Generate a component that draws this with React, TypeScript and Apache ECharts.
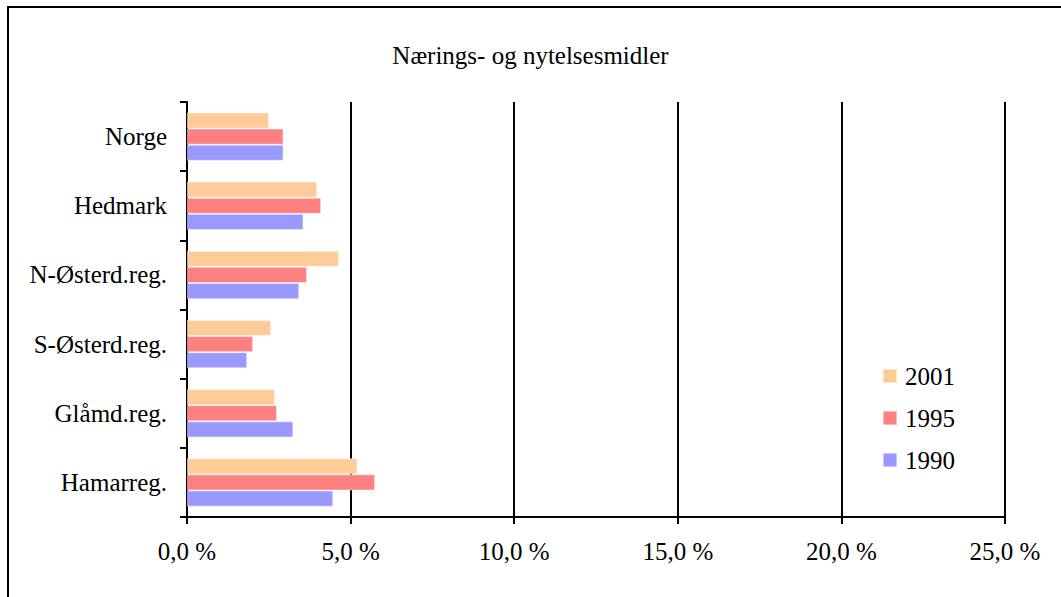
import React, { useEffect, useRef } from "react";
import * as echarts from "echarts";

const categories = ["Norge", "Hedmark", "N-Østerd.reg.", "S-Østerd.reg.", "Glåmd.reg.", "Hamarreg."];
const seriesNames = ["2001", "1995", "1990"];
const values2001 = [2.51, 3.98, 4.65, 2.57, 2.69, 5.21];
const values1995 = [2.95, 4.1, 3.67, 2.02, 2.75, 5.75];
const values1990 = [2.95, 3.56, 3.43, 1.84, 3.25, 4.47];
const colors = ["#FFCC99", "#FF8080", "#9999FF"];
const xTicks = [0, 5, 10, 15, 20, 25];

const FONT = "Times New Roman, Liberation Serif, serif";
const FS = 25;

export default function App() {
  const ref = useRef<HTMLDivElement>(null);
  useEffect(() => {
    document.body.style.margin = "0";
    const chart = echarts.init(ref.current!, null, { renderer: "svg" });
    const data = [values2001, values1995, values1990];
    chart.setOption({
      animation: false,
      backgroundColor: "#ffffff",
      textStyle: { fontFamily: FONT },
      title: {
        text: "Nærings- og nytelsesmidler",
        left: "center",
        top: 38,
        textStyle: { fontFamily: FONT, fontSize: FS, fontWeight: "normal", color: "#000" },
      },
      graphic: [
        {
          type: "rect",
          shape: { x: 8, y: 7, width: 1200, height: 800 },
          style: { fill: "none", stroke: "#000", lineWidth: 2 },
          silent: true,
        },
      ],
      legend: {
        orient: "vertical",
        left: 877,
        top: 358,
        itemWidth: 14,
        itemHeight: 14,
        itemGap: 16,
        icon: "rect",
        data: seriesNames,
        textStyle: { fontFamily: FONT, fontSize: FS, color: "#000", lineHeight: 26, padding: [0, 0, 0, 3] },
      },
      grid: { left: 187, right: 56, top: 102, bottom: 80, containLabel: false },
      xAxis: {
        type: "value",
        min: xTicks[0],
        max: xTicks[xTicks.length - 1],
        interval: 5,
        axisLine: { show: true, lineStyle: { color: "#000", width: 2 } },
        axisTick: { show: true, length: 7, lineStyle: { color: "#000", width: 2 } },
        splitLine: { show: true, lineStyle: { color: "#000", width: 2 } },
        axisLabel: {
          margin: 22,
          fontFamily: FONT,
          fontSize: FS,
          color: "#000",
          formatter: (v: number) => v.toFixed(1).replace(".", ",") + " %",
        },
      },
      yAxis: {
        type: "category",
        inverse: true,
        data: categories,
        axisLine: { show: true, lineStyle: { color: "#000", width: 2 } },
        axisTick: { show: true, length: 7, lineStyle: { color: "#000", width: 2 } },
        axisLabel: { margin: 20, fontFamily: FONT, fontSize: FS, color: "#000", padding: [4, 0, 0, 0] },
      },
      series: seriesNames.map((name, i) => ({
        name,
        type: "bar",
        data: data[i],
        barGap: "0%",
        barCategoryGap: "30%",
        itemStyle: { color: colors[i], borderColor: "rgba(255,255,255,0.45)", borderWidth: 1 },
      })),
    });
    return () => chart.dispose();
  }, []);
  return <div ref={ref} style={{ width: 1061, height: 597 }} />;
}
